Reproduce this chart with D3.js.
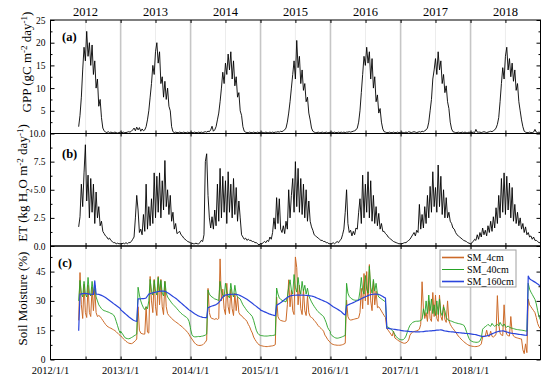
<!DOCTYPE html>
<html>
<head>
<meta charset="utf-8">
<script src="https://cdn.jsdelivr.net/npm/d3@7"></script>
<style>
  body { margin: 0; background: #fff; }
  svg { display: block; font-family: "Liberation Serif", "Times New Roman", serif; }
</style>
</head>
<body>
<div id="chart"></div>
<script>
// first sample of every yearly block, values follow at 7-day steps
const yearStarts = ["2012-05-27", "2013-01-01", "2014-01-01", "2015-01-01", "2016-01-01", "2017-01-01", "2018-01-01"];

// GPP (gC m-2 day-1), weekly samples per year
const gpp = [
  [1.5,4,8,14,19,16,22.5,17,20,15,19.5,13,16,10,12,6,7.5,3.5,1.2,0.6,0.3,0.2,0.4,0.2,0.3,0.2,0.2,0.3,0.2,0.1,0.2,0.3],
  [0.3,0.2,0.3,0.2,0.2,0.3,0.4,0.3,0.5,0.8,1.2,0.6,1.4,0.8,1.3,0.5,1.0,0.6,0.8,1.5,3,5,8,11,15,13,18,20,15.5,18,11,12.5,8,11.5,7.5,10,6,5,1.5,0.4,0.2,0.3,0.2,0.2,0.3,0.2,0.2,0.3,0.2,0.2,0.3,0.2,0.2],
  [0.3,0.2,0.2,0.3,0.2,0.2,0.3,0.2,0.3,0.2,0.3,0.4,0.3,0.5,0.4,0.8,1.6,0.5,0.8,1.5,3,4.5,7,10,13.5,11,15.5,13,17.5,14,18,12,16,10.5,12.5,8,9,5,4,1.5,0.5,0.3,0.2,0.2,0.3,0.2,0.2,0.3,0.2,0.2,0.3,0.2,0.2],
  [0.2,0.3,0.2,0.2,0.3,0.2,0.2,0.3,0.2,0.3,0.2,0.3,0.3,0.4,0.3,0.5,0.4,0.6,0.8,1.2,2.5,4.5,7,10,13,16,12,20.5,14.5,17,11,14,9.5,11,7,8,4.5,3,1.2,0.5,0.3,0.2,0.2,0.3,0.2,0.2,0.3,0.2,0.2,0.3,0.2,0.2,0.3],
  [0.2,0.3,0.2,0.3,0.2,0.2,0.3,0.2,0.3,0.2,0.3,0.2,0.3,0.3,0.4,0.3,0.4,0.5,0.6,0.8,1.2,2.5,5,9,13,17,15,19,15.5,18,12,16.5,10,12.5,7,8.5,4.5,5.5,2.5,1,0.4,0.3,0.2,0.2,0.3,0.2,0.2,0.3,0.2,0.2,0.3,0.2,0.2],
  [0.2,0.3,0.2,0.2,0.3,0.2,0.4,0.3,0.2,0.3,0.4,0.3,0.2,0.3,0.4,0.3,0.5,0.4,0.6,0.8,1.2,2.5,5,7.5,12,14,16.5,13,18,14,16,11,13,9,10.5,7,5.5,2.5,1,0.4,0.3,0.2,0.2,0.3,0.2,0.2,0.3,0.2,0.3,0.2,0.2,0.3,0.2],
  [0.3,0.2,0.3,0.2,0.9,0.3,0.3,0.3,0.2,0.3,0.4,0.3,0.2,0.3,0.4,0.5,0.4,0.6,0.8,1.2,2,3.5,7,11,14.5,12,17,19,14,16.5,12.5,15.5,11.5,14,9.5,11,7,5,3,1.5,0.5,0.3,0.2,0.2,0.3,0.2,0.2,0.3,0.9,0.3,0.2,0.3,0.2]
];

// ET (kg H2O m-2 day-1)
const et = [
  [1.7,2.6,5.5,3.5,6.5,9.0,4,6.3,2.5,6,3,5.5,2,4.8,2.5,3.5,1.8,2.2,1.3,1.1,0.9,0.8,0.6,0.7,0.5,0.4,0.3,0.3,0.2,0.25,0.2,0.2],
  [0.2,0.2,0.25,0.2,0.3,0.2,0.3,0.3,0.4,0.6,0.8,2.5,4.5,3.2,1.2,1.5,1.0,2.8,1.3,5.5,1.5,3.5,1.8,4.2,2,6.5,2.5,6.2,3,6.5,2.5,5.8,3.2,7.6,3.5,5,2.8,4.5,2.2,3,1.5,2,1.1,1.2,1.3,1.0,0.9,0.7,0.6,0.5,0.4,0.35,0.3],
  [0.3,0.25,0.2,0.2,0.25,0.2,0.2,0.3,0.5,0.4,1.0,7.5,8.2,4.5,2.5,1.6,2.6,1.5,3.2,1.8,5.5,2.2,6.9,2.5,6.2,3,5.8,2,6.6,3,5.5,2.5,6.0,2.8,5.2,2.2,4.0,2.5,1.0,0.8,0.6,0.7,0.5,0.6,0.5,0.5,0.4,0.4,0.3,0.3,0.2,0.1,0.2],
  [0.2,0.2,0.3,0.4,0.3,0.5,0.4,0.8,0.6,1.2,2.5,1.5,4.3,2,4.2,1.5,1.2,1.8,1.1,2.2,1.5,5,2.5,4.5,6,3,7.5,3.5,6.9,3,6,2.8,5.5,2.5,5,2.2,4,2.2,1.7,1.4,1.0,0.9,0.8,0.7,0.6,0.5,0.5,0.4,0.4,0.3,0.3,0.2,0.2],
  [0.2,0.2,0.3,0.2,0.3,0.4,0.3,0.5,0.6,1.0,1.5,3,5,2,1.2,1.4,0.9,1.3,1.0,1.6,1.5,3,4.2,2,6.3,2.5,5.5,3,6.6,2.5,5.8,2.2,4.5,2,3.5,1.8,2.9,1.5,2,1.3,1.3,1.1,1.0,0.8,0.7,0.6,0.5,0.4,0.35,0.3,0.25,0.2,0.2],
  [0.2,0.2,0.25,0.3,0.3,0.4,0.5,0.6,0.8,1.0,1.2,0.9,1.4,1.2,3.7,1.5,2.8,1.6,3.5,2,4.5,2.5,5.3,3,6.6,3.5,5.2,3,7.2,3.5,6.2,2.8,5,2.5,4.3,2.5,3,2.2,2,1.6,1.5,1.2,1,0.9,0.8,0.7,0.6,0.5,0.45,0.4,0.3,0.25,0.2],
  [0.2,0.3,0.4,0.6,0.5,1.0,0.6,1.2,0.8,1.6,1.0,1.4,0.9,1.8,1.2,2.2,1.3,2.6,1.6,3.4,2,4.5,2.5,6,3,6.5,2.8,6.2,3.2,5.6,2.5,5.2,2.2,3.7,2,3,1.8,2.5,1.5,2,1.2,1.7,1,1.2,0.8,0.9,0.6,0.8,0.5,0.5,0.4,0.3,0.3]
];

// soil moisture (%) at 4 cm, 40 cm and 160 cm
const sm4 = [
  [20,44.5,28,21,38.5,24,21.5,38,24,22,37,25,36,24,22,22.5,22,21,20,19,18,17.2,16.7,16.3,16,15.6,15.2,14.8,14.2,13.5,12.8,12.2],
  [12.2,11.4,10.6,10,9.3,8.8,8.4,8.2,8.1,8.4,9,9.6,10.5,27,15,13.5,13.2,13,13,27,14,13.5,42.5,30,24,41,27,22.5,42.5,28,41,27,23,40,27,23.5,22.5,21.8,21,20.4,19.8,19.3,18.8,18.3,17.7,17.2,16.6,16,15.3,14.6,13.8,12.8,11.6],
  [11.5,10.5,9.5,8.5,7.8,7.4,7.2,7.2,7.3,7.5,8.2,8.8,10,36.4,24,21.5,21,20.8,20.5,21,20.5,21,51.5,30,36,26,23,39,27,23.5,36,26,22.5,34,25,32,24,22.8,22.5,21.5,21,20.4,19.5,18,16.8,15,13.6,11.5,10.2,9.2,8.2,7.6,7.2],
  [7.1,7,6.8,6.7,6.6,6.6,6.7,6.8,6.9,7,7.2,7.6,32,22,20.5,20,19.8,19.6,19.5,19.8,28,40.8,27,35.5,25,23,52.5,47,28,38,26,23,36,25,22.5,32.5,24,22,21.5,21,20,19.3,18.3,17.3,16.6,16,15.3,14.5,12.5,11.5,10.3,9.4,8.8],
  [8.5,8,7.7,7.5,7.4,7.3,7.3,7.3,7.4,7.6,7.9,8.3,30.4,22,20.5,20.2,20.3,20.5,20.7,20.9,21,21.3,24,36.4,26,44,30,45,28,48.6,30,25,40,28,35,26.5,27,26,24.8,23.6,22.5,21.5,15.8,15,14,13,12,14.5,11,10.5,10,9.5,9.2],
  [9,8.7,8.4,8.3,8.5,9,10,12.5,13.5,14,14.3,14.5,14.7,15,15.5,18,39.8,26,21,24,19.5,30,21,19.5,34.3,22,33,21,19.5,33,22,20,28,20.5,19,30,20,18,16.8,15.8,15,14,13,12,11.3,10.5,9.8,9.2,8.6,8.1,7.6,7.2,7],
  [7,6.8,6.7,6.6,6.6,6.7,6.9,7.2,8,11.5,11.8,12,15,12,11.8,14.5,11.8,11.5,12,13,32.7,18,13.5,12.5,12.2,28,16,12.8,12.2,12,22,14,12,11.5,11.2,11,10.8,10.6,10.5,5,3,8,3.5,31,28,27,26,25,24,21.5,18.5,16.8,15.8]
];
const sm40 = [
  [30,40.5,34,32,40,33.5,32,42,34,32.5,40,33,38,32,30,28,27,26,25.4,25,24.8,24.5,24.3,24,23.6,23.3,22.8,21.6,19.5,17.3,15,13.5],
  [14.5,13.5,12.5,11.3,10.9,10.7,10.6,10.8,11.2,11.6,12.1,12.5,13,37,33,30,28,26.5,25.5,27,26,30,41,35,33,40.5,35,33,42,35,40.5,34,32.5,40,34,32,31,30,29,28.2,27.5,26.8,26,25.2,24.4,23.7,23.1,22.6,22.1,21.6,21,19.5,16.5],
  [15.5,12.8,11.8,11.6,11.6,11.7,11.8,11.7,11.9,12,12.2,12.5,13,35.5,33.5,32.5,32,31.5,31,30.8,30.5,30.2,40,35,33,32,39,34.5,32.5,31.5,39,34,32,38,33.5,32,31.5,31,29.5,28,27,26,25,24.2,23.6,22.8,22,20,17.5,15,13.5,12.7,12.4],
  [12.3,12.2,12.1,12,12,12,12.1,12.2,12.2,12.3,12.4,12.6,36.6,33.5,31.5,30.8,30.3,30,29.7,29.5,32,37,40.8,35.5,33.5,43.5,37,34.5,42,36,33.5,40,35,38,33.5,36.5,32.5,31,29.5,28.3,27.2,26.2,25.2,24.5,23.7,23.2,22.6,22,20.5,18.8,16.5,15.2,14.3],
  [13.2,12.3,11.8,11.3,11,10.9,11,11.2,11.4,11.7,12,12.3,39,34,32.3,31.5,31,30.6,30.4,30.3,30.4,30.5,35,42,35.5,33.5,43,36,34,47.7,37,34,41,35,39,33.5,32,31.5,31,30.5,30,29.5,16.8,16.5,16.2,15.5,15,14,12.8,11.8,11,10.5,10.2],
  [10.2,10,10.2,10.8,12,14,16,17.5,18.3,19,19.3,19.5,19.6,19.6,19.7,20,20.5,26,22.5,30,23.5,33,25,31,23.5,28,22.5,30,23,31,24,22.5,27,25,21.5,20.5,20,19.8,19.6,19.3,19,18.8,18.6,18.4,18.3,18.1,17.9,17.6,16.5,14.5,12.5,10.8,9.7],
  [9.7,9.3,9,8.9,8.8,8.8,9,9.5,11,15.5,16.3,16.8,17.3,18,17.4,17,18.5,17.5,17,17.5,18,17.2,19,17.8,17,18.2,17,16.5,17.2,16.5,16.2,16,15.8,15.6,15.4,15.3,15.2,15.1,15,14.9,14.8,14.6,14.5,39,36,34.5,33.3,32,30.8,28.5,25,22,20.3]
];
const sm160 = [
  [14.7,33.5,33.6,33.7,33.8,33.8,33.7,33.6,33.5,33.4,33.4,33.3,40.3,33.5,33.4,33.3,33.1,32.8,32.5,32.1,31.7,31.2,30.7,30.2,29.7,29.2,28.6,28.1,27.6,27.1,26.6,26.1],
  [25.5,24.9,24.3,23.7,23.1,22.5,21.9,21.4,20.9,20.4,20,19.7,19.5,31,31,31.1,31.2,31.2,31.3,31.5,32.5,33.5,33.7,33.9,34.1,34.3,34.5,34.6,34.8,34.9,35,35,35,34.9,34.6,34.2,33.8,33.3,32.8,32.3,31.8,31.3,30.8,30.2,29.6,29,28.4,27.8,27.2,26.6,26,25.4,24.9],
  [25,24.4,23.9,23.4,23,22.6,22.3,22,21.8,21.6,21.5,21.4,21.4,26.5,26.8,27.1,27.4,27.6,27.8,28.1,28.5,29.2,30,31,32,32.6,33,33.1,33.2,33.3,33.3,33.4,33.4,33.4,33.3,33.2,33,32.7,32.4,32,31.6,31.2,30.8,30.3,29.8,29.3,28.8,28.2,27.7,27.2,26.6,26.1,25.6],
  [25.3,25,24.7,24.4,24.1,23.8,23.5,23.2,23,22.8,22.6,22.5,27.8,28.2,28.6,29.1,29.6,30.1,30.7,31.2,31.7,32.2,32.5,32.7,32.8,32.9,32.9,33,33,33,33,33,32.9,32.9,32.8,32.8,32.7,32.6,32.5,32.3,32.1,31.8,31.5,31.2,30.9,30.6,30.3,30,29.7,29.4,29,28.6,28.2],
  [28,27.5,27,26.6,26.2,25.8,25.4,25,24.5,23.8,23.2,22.8,27.6,27.9,28.2,28.5,28.8,29.1,29.4,29.8,30.1,30.4,30.8,31.1,31.5,31.8,32.1,32.4,32.7,33,33.2,33.3,33.4,33.5,33.5,33.4,33.3,33,32.6,32.2,31.8,31.5,16,15.9,15.8,15.7,15.6,15.5,15.4,15.3,15.2,15.1,15],
  [14.9,14.8,14.7,14.6,14.5,14.5,14.4,14.3,14.3,14.2,14.2,14.1,14.1,14.1,14.1,14.2,14.2,14.3,14.4,14.5,14.5,14.6,14.7,14.7,14.8,14.8,14.9,15,15,15.1,15.2,15,14.8,14.6,14.5,14.4,14.3,14.2,14.1,14.1,14,13.9,13.8,13.8,13.7,13.6,13.5,13.5,13.4,13.3,13.3,13.2,13.1],
  [13.1,13,12.9,12.8,12.7,12.5,12.3,12.1,11.9,11.8,11.8,11.9,12.1,12.3,12.5,12.8,13.1,13.4,13.7,14,14.2,14.4,14.5,14.6,14.7,14.5,14.3,14.1,13.9,13.6,13.5,13.4,13.3,13.2,13.1,13,12.9,12.8,12.7,12.6,12.5,12.4,12.3,42.7,41.3,40.8,40.4,40,39.6,39.2,38.7,38.1,37.7]
];

const years = [2012, 2013, 2014, 2015, 2016, 2017, 2018];
const topLabels = ["2012", "2013", "2014", "2015", "2016", "2017", "2018"];
const bottomLabels = ["2012/1/1", "2013/1/1", "2014/1/1", "2015/1/1", "2016/1/1", "2017/1/1", "2018/1/1"];
const smNames = ["SM_4cm", "SM_40cm", "SM_160cm"];
const smColors = ["#cc6a28", "#26a326", "#2a45dc"];

const w = 550, h = 379;
const left = 50.5, right = 540.5;

const parse = d3.timeParse("%Y-%m-%d");
function toPoints(series) {
    return series.flatMap((vals, i) => {
        const start = parse(yearStarts[i]);
        return vals.map((v, k) => ({ date: d3.timeDay.offset(start, 7 * k), v: v }));
    });
}

const svg = d3.select("#chart").append("svg")
    .attr("width", w)
    .attr("height", h);

svg.append("rect").attr("width", w).attr("height", h).attr("fill", "#fff");

const x = d3.scaleTime()
    .domain([new Date(2012, 0, 1), new Date(2019, 0, 1)])
    .range([left, right]);

const panels = [
    { id: "a", top: 20, bottom: 133.5, domain: [0, 25], major: [5, 10, 15, 20, 25], minor: d3.range(2.5, 25, 5), fmt: d3.format("d") },
    { id: "b", top: 133.5, bottom: 246, domain: [0, 10], major: [0, 2.5, 5, 7.5, 10], minor: d3.range(1.25, 10, 2.5), fmt: d3.format(".1f") },
    { id: "c", top: 246, bottom: 359.5, domain: [0, 58.1], major: [0, 15, 30, 45], minor: [7.5, 22.5, 37.5, 52.5], fmt: d3.format("d") }
];
panels.forEach(p => {
    p.y = d3.scaleLinear().domain(p.domain).range([p.bottom, p.top]);
});

const yearLines = years.slice(1).map(y => new Date(y, 0, 1));
const midYears = years.map(y => new Date(y, 6, 2));

// grid lines, clip paths
panels.forEach(p => {
    svg.append("clipPath").attr("id", "clip-" + p.id)
        .append("rect")
        .attr("x", left).attr("y", p.top)
        .attr("width", right - left).attr("height", p.bottom - p.top);

    svg.append("g").selectAll("line")
        .data(midYears)
        .enter().append("line")
        .attr("x1", d => x(d)).attr("x2", d => x(d))
        .attr("y1", p.top).attr("y2", p.bottom)
        .attr("stroke", "#ececec")
        .attr("stroke-width", 1);

    svg.append("g").selectAll("line")
        .data(yearLines)
        .enter().append("line")
        .attr("x1", d => x(d)).attr("x2", d => x(d))
        .attr("y1", p.top).attr("y2", p.bottom)
        .attr("stroke", "#c6c6c6")
        .attr("stroke-width", 1.6);
});

// data lines
function drawLine(p, series, color, width) {
    const line = d3.line()
        .x(d => x(d.date))
        .y(d => p.y(d.v));
    svg.append("path")
        .datum(toPoints(series))
        .attr("clip-path", "url(#clip-" + p.id + ")")
        .attr("fill", "none")
        .attr("stroke", color)
        .attr("stroke-width", width)
        .attr("stroke-linejoin", "round")
        .attr("d", line);
}
drawLine(panels[0], gpp, "#000", 0.9);
drawLine(panels[1], et, "#000", 0.9);
drawLine(panels[2], sm4, smColors[0], 1);
drawLine(panels[2], sm40, smColors[1], 0.9);
drawLine(panels[2], sm160, smColors[2], 1.2);

// axes
panels.forEach(p => {
    const gl = svg.append("g").attr("transform", `translate(${left},0)`);
    gl.call(d3.axisLeft(p.y).tickValues(p.major).tickSize(-4).tickPadding(5).tickFormat(p.fmt));
    gl.append("g").call(d3.axisLeft(p.y).tickValues(p.minor).tickSize(-2).tickFormat(""));

    const gr = svg.append("g").attr("transform", `translate(${right},0)`);
    gr.call(d3.axisRight(p.y).tickValues(p.major).tickSize(-4).tickFormat(""));
    gr.append("g").call(d3.axisRight(p.y).tickValues(p.minor).tickSize(-2).tickFormat(""));

    const gt = svg.append("g").attr("transform", `translate(0,${p.top})`);
    gt.call(d3.axisTop(x).tickValues(midYears.concat(yearLines)).tickSize(-3).tickFormat(""));
    const gb = svg.append("g").attr("transform", `translate(0,${p.bottom})`);
    gb.call(d3.axisBottom(x).tickValues(midYears.concat(yearLines)).tickSize(-3).tickFormat(""));

    svg.selectAll(".domain").remove();

    svg.append("rect")
        .attr("x", left).attr("y", p.top)
        .attr("width", right - left).attr("height", p.bottom - p.top)
        .attr("fill", "none")
        .attr("stroke", "#000")
        .attr("stroke-width", 1);
});

svg.selectAll(".tick line").attr("stroke", "#000");
svg.selectAll(".tick text")
    .attr("font-family", "Liberation Serif, serif")
    .attr("font-size", 9.5)
    .attr("fill", "#000");

// top year labels
svg.append("g").selectAll("text")
    .data(topLabels)
    .enter().append("text")
    .attr("x", (d, i) => x(midYears[i]))
    .attr("y", 15.5)
    .attr("text-anchor", "middle")
    .attr("font-size", 12.5)
    .text(d => d);

// bottom date labels
svg.append("g").selectAll("text")
    .data(bottomLabels)
    .enter().append("text")
    .attr("x", (d, i) => x(new Date(years[i], 0, 1)))
    .attr("y", 374)
    .attr("text-anchor", "middle")
    .attr("font-size", 10.5)
    .text(d => d);

// panel tags
[["(a)", 62, 41], ["(b)", 62, 157.5], ["(c)", 58, 267]].forEach(t => {
    svg.append("text")
        .attr("x", t[1]).attr("y", t[2])
        .attr("font-size", 12.5)
        .attr("font-weight", "bold")
        .text(t[0]);
});

// y titles, parts: [text, shift] with shift -1 sup, 1 sub
function yTitle(parts, bx, cy) {
    const t = svg.append("text")
        .attr("transform", `translate(${bx},${cy}) rotate(-90)`)
        .attr("text-anchor", "middle")
        .attr("font-size", 13);
    let prev = 0;
    parts.forEach(pt => {
        const shift = pt[1] * 4.5;
        t.append("tspan")
            .attr("dy", shift - prev)
            .attr("font-size", pt[1] === 0 ? 13 : 9)
            .text(pt[0]);
        prev = shift;
    });
}
yTitle([["GPP (gC m", 0], ["-2", -1], [" day", 0], ["-1", -1], [")", 0]], 31, 62);
yTitle([["ET (kg H", 0], ["2", 1], ["O m", 0], ["-2", -1], [" day", 0], ["-1", -1], [")", 0]], 27, 183);
yTitle([["Soil Moisture (%)", 0]], 27, 298.5);

// legend
const lg = svg.append("g");
lg.append("rect")
    .attr("x", 440).attr("y", 250)
    .attr("width", 76).attr("height", 37)
    .attr("fill", "#fff")
    .attr("stroke", "#a0a0a0")
    .attr("stroke-width", 1);
smNames.forEach((name, i) => {
    const yy = 257.5 + i * 12;
    lg.append("line")
        .attr("x1", 442).attr("x2", 464)
        .attr("y1", yy).attr("y2", yy)
        .attr("stroke", smColors[i])
        .attr("stroke-width", i === 1 ? 1 : 1.6);
    lg.append("text")
        .attr("x", 467).attr("y", yy)
        .attr("dy", "0.35em")
        .attr("font-size", 10)
        .text(name);
});
</script>
</body>
</html>
